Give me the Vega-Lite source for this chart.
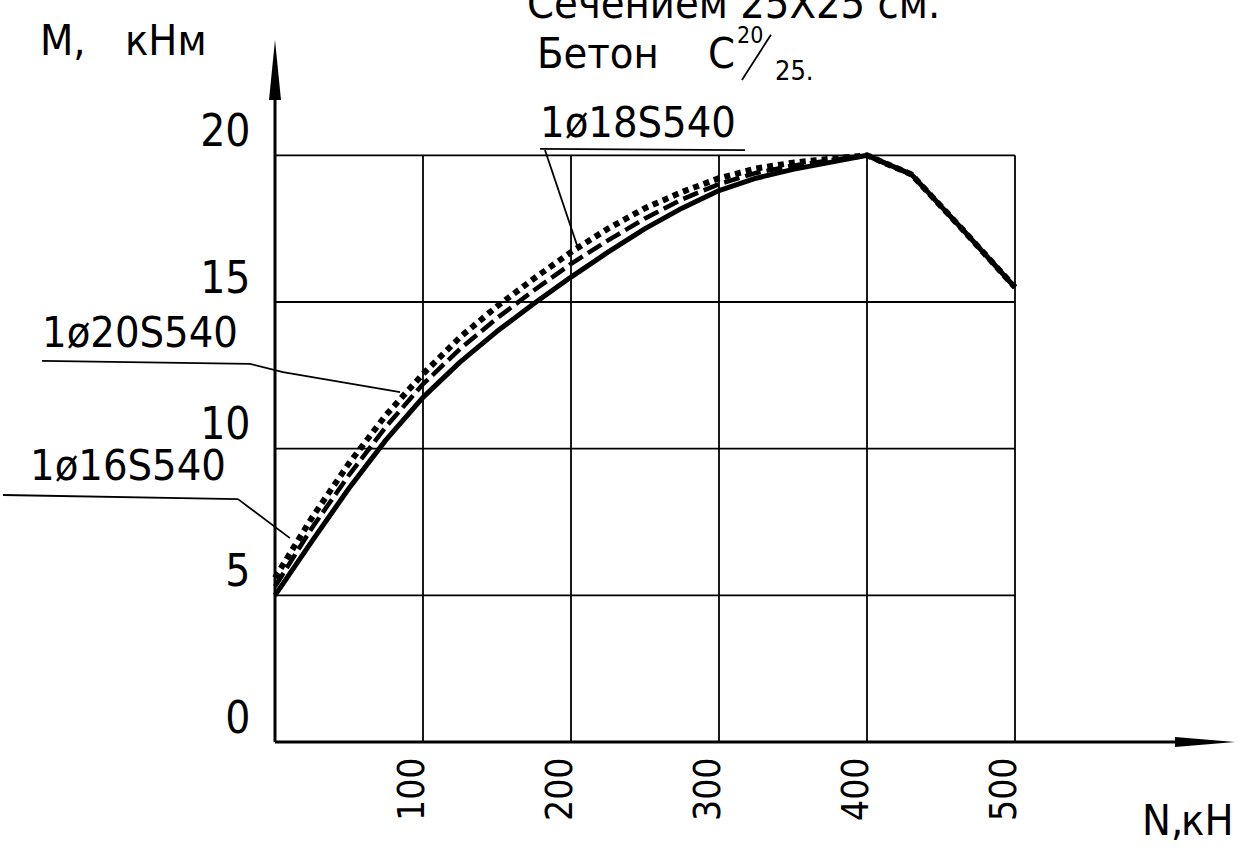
{
  "$schema": "https://vega.github.io/schema/vega-lite/v6.json",
  "width": 962,
  "height": 704,
  "autosize": {"type": "none"},
  "padding": {"left": 275, "top": 38, "right": 2, "bottom": 111},
  "background": "white",
  "config": {
    "view": {"stroke": null},
    "font": "DejaVu Sans Condensed, sans-serif"
  },
  "datasets": {
    "curves": [
      {"series": "1ø16S540", "N": 0, "M": 5.0},
      {"series": "1ø16S540", "N": 25, "M": 6.85},
      {"series": "1ø16S540", "N": 50, "M": 8.65},
      {"series": "1ø16S540", "N": 75, "M": 10.3},
      {"series": "1ø16S540", "N": 100, "M": 11.75},
      {"series": "1ø16S540", "N": 125, "M": 12.95},
      {"series": "1ø16S540", "N": 150, "M": 14.0},
      {"series": "1ø16S540", "N": 175, "M": 14.95},
      {"series": "1ø16S540", "N": 200, "M": 15.85},
      {"series": "1ø16S540", "N": 225, "M": 16.7},
      {"series": "1ø16S540", "N": 250, "M": 17.5},
      {"series": "1ø16S540", "N": 275, "M": 18.2},
      {"series": "1ø16S540", "N": 300, "M": 18.8},
      {"series": "1ø16S540", "N": 325, "M": 19.22},
      {"series": "1ø16S540", "N": 350, "M": 19.52},
      {"series": "1ø16S540", "N": 375, "M": 19.76},
      {"series": "1ø16S540", "N": 400, "M": 20.0},
      {"series": "1ø16S540", "N": 430, "M": 19.35},
      {"series": "1ø16S540", "N": 465, "M": 17.45},
      {"series": "1ø16S540", "N": 500, "M": 15.5},
      {"series": "1ø18S540", "N": 0, "M": 5.3},
      {"series": "1ø18S540", "N": 25, "M": 7.3},
      {"series": "1ø18S540", "N": 50, "M": 9.1},
      {"series": "1ø18S540", "N": 75, "M": 10.75},
      {"series": "1ø18S540", "N": 100, "M": 12.2},
      {"series": "1ø18S540", "N": 125, "M": 13.4},
      {"series": "1ø18S540", "N": 150, "M": 14.45},
      {"series": "1ø18S540", "N": 175, "M": 15.4},
      {"series": "1ø18S540", "N": 200, "M": 16.3},
      {"series": "1ø18S540", "N": 225, "M": 17.1},
      {"series": "1ø18S540", "N": 250, "M": 17.85},
      {"series": "1ø18S540", "N": 275, "M": 18.5},
      {"series": "1ø18S540", "N": 300, "M": 19.02},
      {"series": "1ø18S540", "N": 325, "M": 19.4},
      {"series": "1ø18S540", "N": 350, "M": 19.65},
      {"series": "1ø18S540", "N": 375, "M": 19.83},
      {"series": "1ø18S540", "N": 400, "M": 20.0},
      {"series": "1ø18S540", "N": 430, "M": 19.35},
      {"series": "1ø18S540", "N": 465, "M": 17.45},
      {"series": "1ø18S540", "N": 500, "M": 15.5},
      {"series": "1ø20S540", "N": 0, "M": 5.6},
      {"series": "1ø20S540", "N": 25, "M": 7.65},
      {"series": "1ø20S540", "N": 50, "M": 9.5},
      {"series": "1ø20S540", "N": 75, "M": 11.15},
      {"series": "1ø20S540", "N": 100, "M": 12.55},
      {"series": "1ø20S540", "N": 125, "M": 13.8},
      {"series": "1ø20S540", "N": 150, "M": 14.85},
      {"series": "1ø20S540", "N": 175, "M": 15.8},
      {"series": "1ø20S540", "N": 200, "M": 16.7},
      {"series": "1ø20S540", "N": 225, "M": 17.5},
      {"series": "1ø20S540", "N": 250, "M": 18.2},
      {"series": "1ø20S540", "N": 275, "M": 18.75},
      {"series": "1ø20S540", "N": 300, "M": 19.22},
      {"series": "1ø20S540", "N": 325, "M": 19.55},
      {"series": "1ø20S540", "N": 350, "M": 19.75},
      {"series": "1ø20S540", "N": 375, "M": 19.88},
      {"series": "1ø20S540", "N": 400, "M": 20.0},
      {"series": "1ø20S540", "N": 430, "M": 19.35},
      {"series": "1ø20S540", "N": 465, "M": 17.45},
      {"series": "1ø20S540", "N": 500, "M": 15.5}
    ],
    "grid": [
      {"N": 100, "M": 0, "N2": 100, "M2": 20},
      {"N": 200, "M": 0, "N2": 200, "M2": 20},
      {"N": 300, "M": 0, "N2": 300, "M2": 20},
      {"N": 400, "M": 0, "N2": 400, "M2": 20},
      {"N": 500, "M": 0, "N2": 500, "M2": 20},
      {"N": 0, "M": 5, "N2": 500, "M2": 5},
      {"N": 0, "M": 10, "N2": 500, "M2": 10},
      {"N": 0, "M": 15, "N2": 500, "M2": 15},
      {"N": 0, "M": 20, "N2": 500, "M2": 20}
    ],
    "axes": [
      {"N": 0, "M": 0, "N2": 630, "M2": 0},
      {"N": 0, "M": 0, "N2": 0, "M2": 23}
    ],
    "leaders": [
      {"N": -157.4, "M": 12.99, "N2": -16.9, "M2": 12.89},
      {"N": -16.9, "M": 12.89, "N2": 5.4, "M2": 12.61},
      {"N": 5.4, "M": 12.61, "N2": 84.5, "M2": 11.93},
      {"N": -183.8, "M": 8.42, "N2": -25.0, "M2": 8.28},
      {"N": -25.0, "M": 8.28, "N2": 10.1, "M2": 6.95},
      {"N": 179.1, "M": 20.22, "N2": 317.6, "M2": 20.18},
      {"N": 182.4, "M": 20.18, "N2": 204.7, "M2": 16.84},
      {"N": 315.5, "M": 22.57, "N2": 335.1, "M2": 24.11}
    ],
    "bigtext": [
      {"N": 170.3, "M": 24.68, "label": "Сечением 25Х25 см."},
      {"N": -158.8, "M": 23.42, "label": "M,"},
      {"N": -101.4, "M": 23.42, "label": "кНм"},
      {"N": 585.8, "M": -3.17, "label": "N,"},
      {"N": 612.2, "M": -3.17, "label": "кН"},
      {"N": -157.4, "M": 13.47, "label": "1ø20S540"},
      {"N": -165.5, "M": 8.93, "label": "1ø16S540"},
      {"N": 179.1, "M": 20.63, "label": "1ø18S540"},
      {"N": 177.0, "M": 22.98, "label": "Бетон"},
      {"N": 292.6, "M": 22.98, "label": "C"}
    ],
    "sup": [
      {"N": 312.2, "M": 23.83, "label": "20"}
    ],
    "sub": [
      {"N": 337.8, "M": 22.57, "label": "25."}
    ],
    "arrowY": [{"N": 0, "M": 22.91}],
    "arrowX": [{"N": 628.4, "M": 0}]
  },
  "encoding": {
    "x": {
      "field": "N", "type": "quantitative",
      "scale": {"domain": [0, 650], "nice": false, "zero": false},
      "axis": {
        "title": null, "values": [100, 200, 300, 400, 500], "domain": false, "ticks": false, "grid": false,
        "labelAngle": 270, "labelAlign": "right", "labelBaseline": "alphabetic", "labelPadding": 15,
        "labelFontSize": 37, "labelFont": "DejaVu Sans Condensed, sans-serif",
        "labelColor": "black", "labelFlush": false, "labelOverlap": false
      }
    },
    "y": {
      "field": "M", "type": "quantitative",
      "scale": {"domain": [0, 24], "nice": false, "zero": false},
      "axis": {
        "title": null, "values": [0, 5, 10, 15, 20], "domain": false, "ticks": false, "grid": false,
        "labelAlign": "right", "labelBaseline": "alphabetic", "labelPadding": 25, "labelOffset": -10,
        "labelFontSize": 44, "labelFont": "DejaVu Sans Condensed, sans-serif",
        "labelColor": "black", "labelFlush": false, "labelOverlap": false
      }
    }
  },
  "layer": [
    {
      "data": {"name": "grid"},
      "mark": {"type": "rule", "color": "black", "strokeWidth": 1.8},
      "encoding": {"x2": {"field": "N2"}, "y2": {"field": "M2"}}
    },
    {
      "data": {"name": "axes"},
      "mark": {"type": "rule", "color": "black", "strokeWidth": 3},
      "encoding": {"x2": {"field": "N2"}, "y2": {"field": "M2"}}
    },
    {
      "data": {"name": "arrowY"},
      "mark": {"type": "point", "filled": true, "color": "black", "opacity": 1, "size": 3600, "shape": "M0,-1L0.2,1L-0.2,1Z"}
    },
    {
      "data": {"name": "arrowX"},
      "mark": {"type": "point", "filled": true, "color": "black", "opacity": 1, "size": 3600, "shape": "M1,0L-1,-0.17L-1,0.17Z"}
    },
    {
      "data": {"name": "curves"},
      "transform": [{"filter": "datum.series === '1ø20S540'"}],
      "mark": {"type": "line", "color": "black", "strokeWidth": 6, "strokeDash": [6, 5]}
    },
    {
      "data": {"name": "curves"},
      "transform": [{"filter": "datum.series === '1ø18S540'"}],
      "mark": {"type": "line", "color": "black", "strokeWidth": 4.5, "strokeDash": [16, 6]}
    },
    {
      "data": {"name": "curves"},
      "transform": [{"filter": "datum.series === '1ø16S540'"}],
      "mark": {"type": "line", "color": "black", "strokeWidth": 5, "strokeJoin": "round"}
    },
    {
      "data": {"name": "leaders"},
      "mark": {"type": "rule", "color": "black", "strokeWidth": 1.8},
      "encoding": {"x2": {"field": "N2"}, "y2": {"field": "M2"}}
    },
    {
      "data": {"name": "bigtext"},
      "mark": {"type": "text", "align": "left", "baseline": "alphabetic", "fontSize": 43, "color": "black", "font": "DejaVu Sans Condensed, sans-serif"},
      "encoding": {"text": {"field": "label"}}
    },
    {
      "data": {"name": "sup"},
      "mark": {"type": "text", "align": "left", "baseline": "alphabetic", "fontSize": 23, "color": "black", "font": "DejaVu Sans Condensed, sans-serif"},
      "encoding": {"text": {"field": "label"}}
    },
    {
      "data": {"name": "sub"},
      "mark": {"type": "text", "align": "left", "baseline": "alphabetic", "fontSize": 27, "color": "black", "font": "DejaVu Sans Condensed, sans-serif"},
      "encoding": {"text": {"field": "label"}}
    }
  ]
}
